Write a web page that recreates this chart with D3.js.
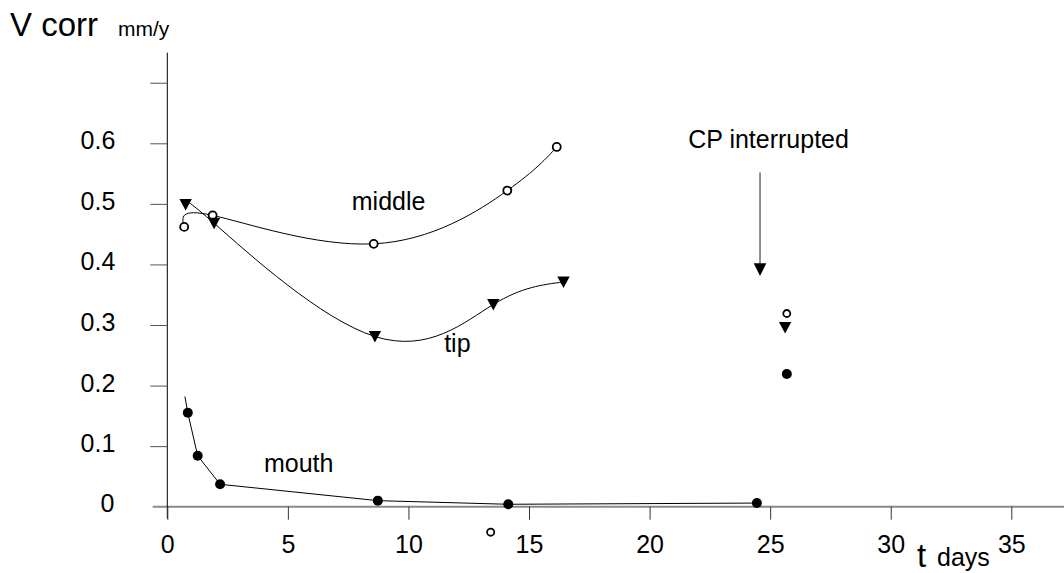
<!DOCTYPE html>
<html>
<head>
<meta charset="utf-8">
<style>
    body { margin: 0; background: #fff; }
    svg { display: block; font-family: "Liberation Sans", Arial, sans-serif; }
    .ax text { font-size: 25px; fill: #000; }
    .lbl { font-size: 25px; fill: #000; }
</style>
<script src="https://cdnjs.cloudflare.com/ajax/libs/d3/7.8.5/d3.min.js"></script>
</head>
<body>
<div id="chart"></div>
<script>
    // data (t in days, V corr in mm/y)
    const middleT = [0.70, 1.88, 8.56, 14.10, 16.15];
    const middleV = [0.462, 0.481, 0.434, 0.522, 0.594];
    const tipT = [0.76, 1.94, 8.61, 13.52, 16.43];
    const tipV = [0.499, 0.468, 0.281, 0.334, 0.371];
    const mouthT = [0.85, 1.26, 2.19, 8.73, 14.14, 24.45];
    const mouthV = [0.155, 0.084, 0.037, 0.010, 0.004, 0.006];
    const mouthLineStart = [0.73, 0.182];   // fitted line starts above first point
    // after CP interrupted
    const afterT = [25.69, 25.62, 25.69];
    const afterV = [0.319, 0.296, 0.219];
    const afterKind = ["middle", "tip", "mouth"];
    const strayT = [13.41];
    const strayV = [-0.042];
    const arrowT = 24.58, arrowFrom = 0.552, arrowTo = 0.381;

    const xTicks = [0, 5, 10, 15, 20, 25, 30, 35];
    const yTicks = [0, 0.1, 0.2, 0.3, 0.4, 0.5, 0.6, 0.7];

    const notes = [
        {text: "middle", t: 7.65, v: 0.49},
        {text: "tip", t: 11.48, v: 0.256},
        {text: "mouth", t: 4.01, v: 0.058},
        {text: "CP interrupted", t: 21.6, v: 0.592}
    ];

    const W = 1064, H = 573;
    const x = d3.scaleLinear().domain([0, 35]).range([167.3, 1011.3]);
    const y = d3.scaleLinear().domain([0, 0.6]).range([506.7, 143.3]);

    const svg = d3.select("#chart").append("svg").attr("width", W).attr("height", H);

    // axes
    svg.append("line").attr("x1", 152.7).attr("x2", W).attr("y1", y(0)).attr("y2", y(0))
        .attr("stroke", "#8a8a8a").attr("stroke-width", 2);
    svg.append("line").attr("x1", x(0)).attr("x2", x(0)).attr("y1", 52.7).attr("y2", 518.5)
        .attr("stroke", "#000").attr("stroke-width", 1);

    const yAx = svg.append("g").attr("class", "ax").attr("transform", `translate(${x(0)},0)`)
        .call(d3.axisLeft(y).tickValues(yTicks.filter(d => d > 0)).tickSize(17).tickPadding(35)
            .tickFormat(d => d > 0.65 ? "" : d3.format(".1f")(d)));
    yAx.select(".domain").remove();
    yAx.selectAll(".tick line").attr("stroke", "#555");
    yAx.selectAll(".tick text").attr("dy", "0.22em");
    // label for 0 sits on the x axis line
    svg.append("text").attr("class", "lbl").attr("x", x(0) - 53).attr("y", y(0))
        .attr("dy", "0.22em").attr("text-anchor", "end").text("0");

    const xAx = svg.append("g").attr("class", "ax").attr("transform", `translate(0,${y(0)})`)
        .call(d3.axisBottom(x).tickValues(xTicks).tickSize(13).tickPadding(15.5).tickFormat(d3.format("d")));
    xAx.select(".domain").remove();
    xAx.selectAll(".tick line").attr("stroke", "#333");

    // axis titles
    svg.append("text").attr("x", 10).attr("y", 36).attr("font-size", 33).text("V corr");
    svg.append("text").attr("x", 118).attr("y", 36).attr("font-size", 21).text("mm/y");
    svg.append("text").attr("x", 917).attr("y", 567).attr("font-size", 33).text("t");
    svg.append("text").attr("x", 937).attr("y", 566).attr("font-size", 25).text("days");

    // curves
    const smooth = d3.line().x(d => x(d[0])).y(d => y(d[1])).curve(d3.curveNatural);
    const straight = d3.line().x(d => x(d[0])).y(d => y(d[1]));
    const zip = (a, b) => a.map((t, i) => [t, b[i]]);

    svg.append("path").attr("d", smooth(zip(middleT, middleV)))
        .attr("fill", "none").attr("stroke", "#000").attr("stroke-width", 1);
    svg.append("path").attr("d", smooth(zip(tipT, tipV)))
        .attr("fill", "none").attr("stroke", "#000").attr("stroke-width", 1);
    svg.append("path").attr("d", straight([mouthLineStart].concat(zip(mouthT, mouthV))))
        .attr("fill", "none").attr("stroke", "#000").attr("stroke-width", 1);

    // markers
    const tri = "M-6.2,-5.4L6.2,-5.4L0,6Z";
    function hollow(pts, r) {
        svg.append("g").selectAll("circle").data(pts).join("circle")
            .attr("cx", d => x(d[0])).attr("cy", d => y(d[1])).attr("r", r)
            .attr("fill", "#fff").attr("stroke", "#000").attr("stroke-width", 1.8);
    }
    function filled(pts) {
        svg.append("g").selectAll("circle").data(pts).join("circle")
            .attr("cx", d => x(d[0])).attr("cy", d => y(d[1])).attr("r", 5).attr("fill", "#000");
    }
    function triangles(pts) {
        svg.append("g").selectAll("path").data(pts).join("path")
            .attr("d", tri).attr("transform", d => `translate(${x(d[0])},${y(d[1])})`).attr("fill", "#000");
    }
    hollow(zip(middleT, middleV), 4);
    triangles(zip(tipT, tipV));
    filled(zip(mouthT, mouthV));

    const after = zip(afterT, afterV);
    hollow(after.filter((d, i) => afterKind[i] === "middle"), 3.5);
    triangles(after.filter((d, i) => afterKind[i] === "tip"));
    filled(after.filter((d, i) => afterKind[i] === "mouth"));
    hollow(zip(strayT, strayV), 3.6);

    // arrow
    svg.append("line").attr("x1", x(arrowT)).attr("x2", x(arrowT))
        .attr("y1", y(arrowFrom)).attr("y2", y(arrowTo) - 10)
        .attr("stroke", "#222").attr("stroke-width", 1);
    svg.append("path").attr("d", "M-6.3,-12.7L6.3,-12.7L0,0Z")
        .attr("transform", `translate(${x(arrowT)},${y(arrowTo)})`).attr("fill", "#000");

    // annotations
    svg.append("g").selectAll("text").data(notes).join("text").attr("class", "lbl")
        .attr("x", d => x(d.t)).attr("y", d => y(d.v)).text(d => d.text);
</script>
</body>
</html>
